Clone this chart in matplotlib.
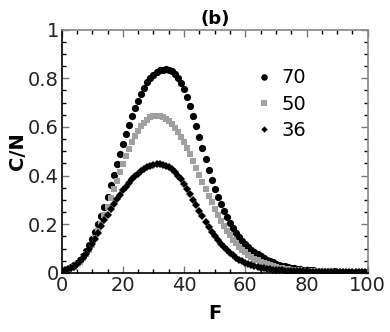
from matplotlib import pyplot as plt
from matplotlib.ticker import MultipleLocator, FuncFormatter
import numpy as np

# F values, one point per unit
F = np.arange(0, 101)

# C/N for each series
cn_70 = [0.010, 0.013, 0.017, 0.023, 0.031, 0.041, 0.054, 0.070, 0.090, 0.113,
         0.140, 0.168, 0.200, 0.235, 0.272, 0.311, 0.360, 0.403, 0.446, 0.488,
         0.529, 0.569, 0.607, 0.643, 0.677, 0.708, 0.736, 0.761, 0.783, 0.801,
         0.815, 0.825, 0.832, 0.835, 0.836, 0.834, 0.828, 0.817, 0.801, 0.780,
         0.754, 0.722, 0.686, 0.646, 0.603, 0.558, 0.513, 0.468, 0.424, 0.382,
         0.345, 0.312, 0.282, 0.254, 0.229, 0.206, 0.185, 0.166, 0.149, 0.133,
         0.119, 0.106, 0.095, 0.085, 0.076, 0.068, 0.061, 0.054, 0.048, 0.043,
         0.038, 0.034, 0.030, 0.027, 0.024, 0.021, 0.019, 0.017, 0.015, 0.013,
         0.012, 0.011, 0.010, 0.009, 0.008, 0.007, 0.007, 0.006, 0.006, 0.006,
         0.005, 0.005, 0.005, 0.005, 0.005, 0.005, 0.005, 0.005, 0.005, 0.005,
         0.005]

cn_50 = [0.008, 0.010, 0.014, 0.019, 0.026, 0.035, 0.046, 0.060, 0.076, 0.095,
         0.116, 0.142, 0.172, 0.203, 0.236, 0.271, 0.307, 0.343, 0.379, 0.414,
         0.447, 0.479, 0.509, 0.536, 0.561, 0.583, 0.602, 0.618, 0.630, 0.639,
         0.644, 0.646, 0.645, 0.641, 0.634, 0.624, 0.611, 0.596, 0.578, 0.558,
         0.536, 0.512, 0.487, 0.460, 0.432, 0.404, 0.375, 0.346, 0.318, 0.290,
         0.263, 0.238, 0.214, 0.192, 0.172, 0.154, 0.137, 0.122, 0.108, 0.096,
         0.085, 0.075, 0.066, 0.058, 0.051, 0.045, 0.040, 0.035, 0.031, 0.027,
         0.024, 0.021, 0.019, 0.017, 0.015, 0.013, 0.012, 0.011, 0.010, 0.009,
         0.008, 0.008, 0.007, 0.007, 0.007, 0.006, 0.006, 0.006, 0.006, 0.005,
         0.005, 0.005, 0.005, 0.005, 0.005, 0.005, 0.005, 0.005, 0.005, 0.005,
         0.005]

cn_36 = [0.008, 0.010, 0.014, 0.019, 0.026, 0.036, 0.048, 0.062, 0.078, 0.097,
         0.118, 0.141, 0.166, 0.192, 0.216, 0.239, 0.261, 0.282, 0.302, 0.321,
         0.339, 0.355, 0.370, 0.384, 0.397, 0.408, 0.418, 0.427, 0.434, 0.440,
         0.444, 0.446, 0.446, 0.444, 0.440, 0.434, 0.425, 0.414, 0.400, 0.384,
         0.366, 0.346, 0.324, 0.301, 0.278, 0.255, 0.232, 0.210, 0.189, 0.169,
         0.151, 0.134, 0.119, 0.105, 0.093, 0.082, 0.072, 0.063, 0.055, 0.048,
         0.042, 0.037, 0.032, 0.028, 0.025, 0.022, 0.019, 0.017, 0.015, 0.013,
         0.012, 0.011, 0.010, 0.009, 0.008, 0.008, 0.007, 0.007, 0.006, 0.006,
         0.006, 0.005, 0.005, 0.005, 0.005, 0.005, 0.005, 0.005, 0.005, 0.005,
         0.005, 0.005, 0.005, 0.005, 0.005, 0.005, 0.005, 0.005, 0.005, 0.005,
         0.005]

labels = ['70', '50', '36']

fig = plt.figure(figsize=(3.9, 3.32), dpi=100)
ax = fig.add_axes([0.158, 0.178, 0.785, 0.733])

ax.plot(F, cn_70, 'o', color='black', ms=5.2, mew=0, label=labels[0])
ax.plot(F, cn_50, 's', color='#a0a0a2', ms=4.6, mew=0, label=labels[1])
ax.plot(F, cn_36, 'D', color='black', ms=3.6, mew=0, label=labels[2])

ax.set_xlim(0, 100)
ax.set_ylim(0, 1)
ax.xaxis.set_major_locator(MultipleLocator(20))
ax.xaxis.set_minor_locator(MultipleLocator(5))
ax.yaxis.set_major_locator(MultipleLocator(0.2))
ax.yaxis.set_minor_locator(MultipleLocator(0.05))
ax.yaxis.set_major_formatter(FuncFormatter(lambda v, p: '%g' % round(v, 2)))

ax.tick_params(which='both', direction='in', top=True, right=True,
               labelsize=14, pad=2, colors='#777777', labelcolor='#222222')
ax.tick_params(which='major', length=5, width=1)
ax.tick_params(which='minor', length=3, width=1, colors='black')

ax.spines['left'].set_color('black')
ax.spines['bottom'].set_color('black')
ax.spines['top'].set_color('#888888')
ax.spines['right'].set_color('#888888')
for s in ax.spines.values():
    s.set_linewidth(1.2)

ax.set_xlabel('F', fontsize=14, fontweight='bold', labelpad=7)
ax.set_ylabel('C/N', fontsize=14, fontweight='bold', labelpad=1)
ax.set_title('(b)', fontsize=13, fontweight='bold', pad=4)

ax.legend(loc='upper left', bbox_to_anchor=(0.61, 0.88), frameon=False,
          fontsize=14, handlelength=0.6, handletextpad=0.6, labelspacing=0.38,
          borderpad=0, markerscale=0.9)

fig.savefig('out.png', dpi=100)
plt.close()
